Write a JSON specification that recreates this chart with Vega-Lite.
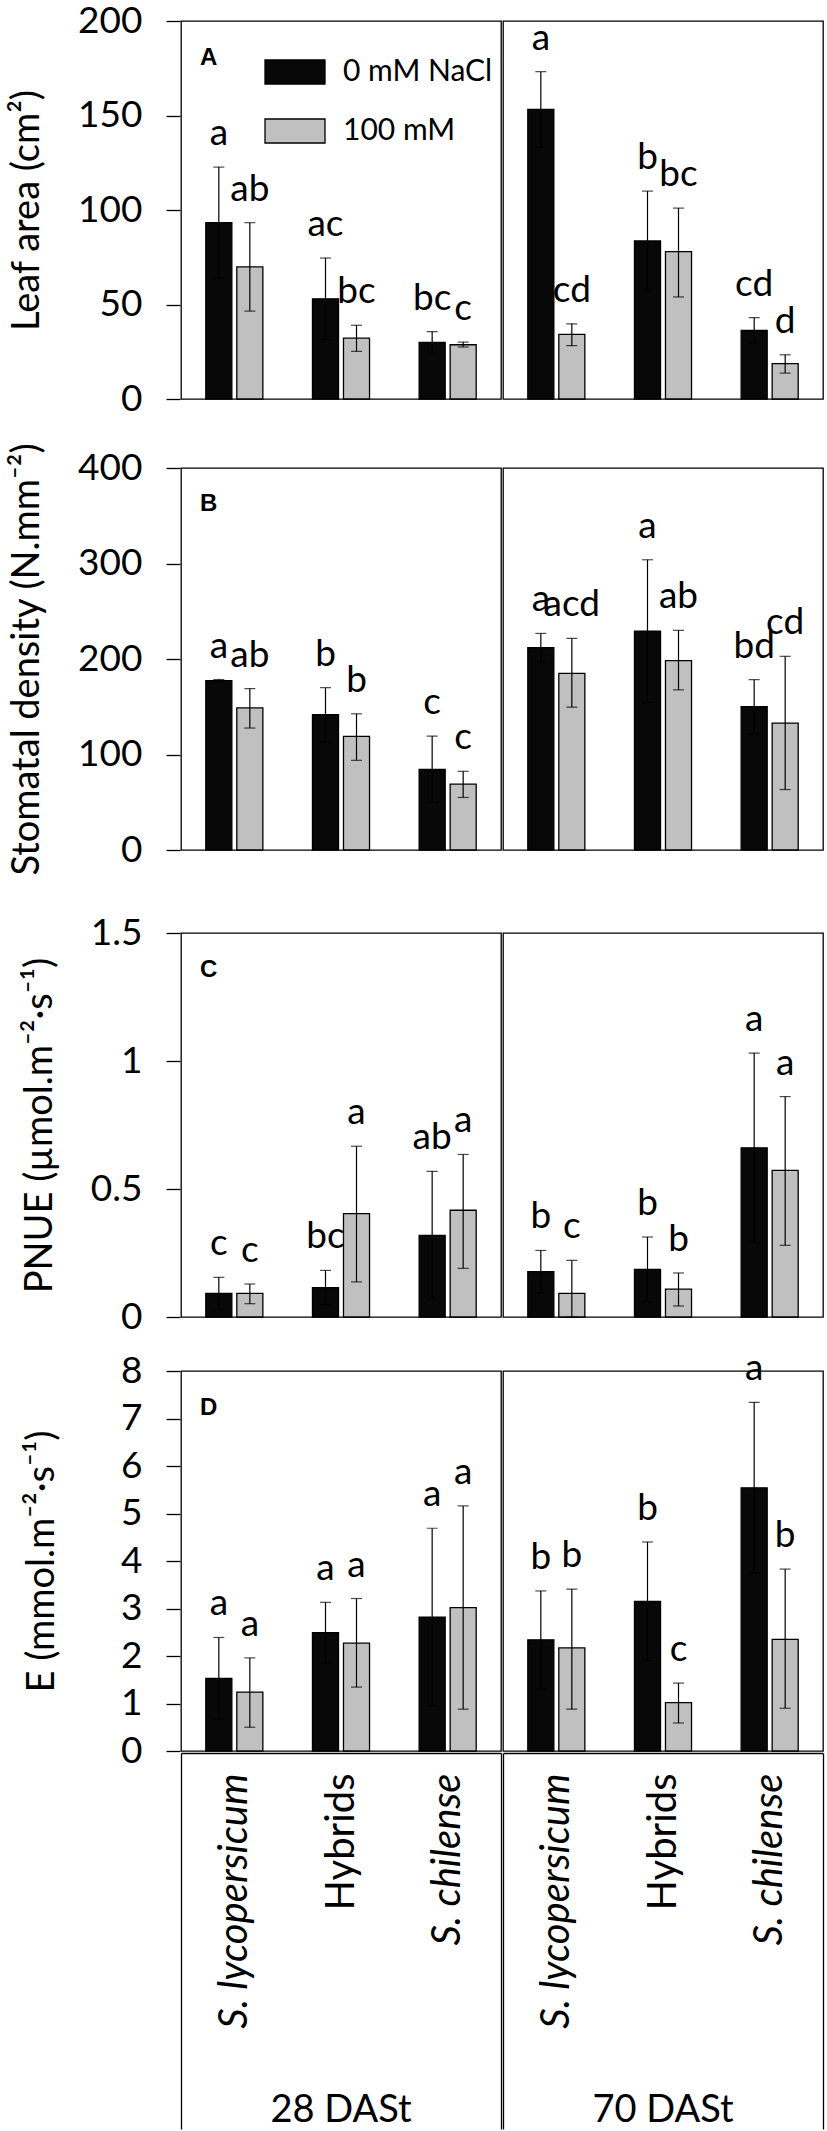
{
"$schema": "https://vega.github.io/schema/vega-lite/v6.json",
"background": "white",
"padding": {"left": 8, "top": 2, "right": 5, "bottom": 0},
"config": {
  "view": {"stroke": "black", "strokeWidth": 1.3},
  "font": "Lato",
  "axis": {"labelFont": "Lato", "titleFont": "Lato", "labelColor": "black", "titleColor": "black", "grid": false},
  "axisY": {"tickSize": 14, "tickWidth": 1.3, "tickColor": "black", "domain": false, "labelFontSize": 37, "labelPadding": 24, "titleFontSize": 38, "titleFontWeight": "normal", "titlePadding": 31, "format": "~f"}
},
"datasets": {
"leaf": [
{"period":"28 DASt","species":"S. lycopersicum","treatment":"0 mM NaCl","mean":93.3,"lo":63.9,"hi":122.7,"letter":"a"},
{"period":"28 DASt","species":"S. lycopersicum","treatment":"100 mM","mean":69.9,"lo":46.5,"hi":93.3,"letter":"ab"},
{"period":"28 DASt","species":"Hybrids","treatment":"0 mM NaCl","mean":53,"lo":31.4,"hi":74.6,"letter":"ac"},
{"period":"28 DASt","species":"Hybrids","treatment":"100 mM","mean":32.2,"lo":25.2,"hi":39,"letter":"bc"},
{"period":"28 DASt","species":"S. chilense","treatment":"0 mM NaCl","mean":29.9,"lo":24.1,"hi":35.7,"letter":"bc"},
{"period":"28 DASt","species":"S. chilense","treatment":"100 mM","mean":28.7,"lo":27.5,"hi":30.1,"letter":"c"},
{"period":"70 DASt","species":"S. lycopersicum","treatment":"0 mM NaCl","mean":153.2,"lo":133.2,"hi":173.2,"letter":"a"},
{"period":"70 DASt","species":"S. lycopersicum","treatment":"100 mM","mean":34.2,"lo":28.2,"hi":39.8,"letter":"cd"},
{"period":"70 DASt","species":"Hybrids","treatment":"0 mM NaCl","mean":83.6,"lo":57.2,"hi":110,"letter":"b"},
{"period":"70 DASt","species":"Hybrids","treatment":"100 mM","mean":78,"lo":54,"hi":101,"letter":"bc"},
{"period":"70 DASt","species":"S. chilense","treatment":"0 mM NaCl","mean":36.3,"lo":29.5,"hi":43.1,"letter":"cd"},
{"period":"70 DASt","species":"S. chilense","treatment":"100 mM","mean":18.7,"lo":13.7,"hi":23.4,"letter":"d"}
],
"stom": [
{"period":"28 DASt","species":"S. lycopersicum","treatment":"0 mM NaCl","mean":177.4,"lo":176.3,"hi":178.5,"letter":"a"},
{"period":"28 DASt","species":"S. lycopersicum","treatment":"100 mM","mean":148.9,"lo":127.7,"hi":169,"letter":"ab"},
{"period":"28 DASt","species":"Hybrids","treatment":"0 mM NaCl","mean":141.6,"lo":113.2,"hi":170,"letter":"b"},
{"period":"28 DASt","species":"Hybrids","treatment":"100 mM","mean":119,"lo":93.9,"hi":142.6,"letter":"b"},
{"period":"28 DASt","species":"S. chilense","treatment":"0 mM NaCl","mean":84.5,"lo":49.7,"hi":119.3,"letter":"c"},
{"period":"28 DASt","species":"S. chilense","treatment":"100 mM","mean":68.9,"lo":55,"hi":82.4,"letter":"c"},
{"period":"70 DASt","species":"S. lycopersicum","treatment":"0 mM NaCl","mean":211.8,"lo":196.8,"hi":226.8,"letter":"a"},
{"period":"70 DASt","species":"S. lycopersicum","treatment":"100 mM","mean":185,"lo":149.6,"hi":221.5,"letter":"acd"},
{"period":"70 DASt","species":"Hybrids","treatment":"0 mM NaCl","mean":229.2,"lo":154.5,"hi":303.9,"letter":"a"},
{"period":"70 DASt","species":"Hybrids","treatment":"100 mM","mean":198.3,"lo":167.7,"hi":230,"letter":"ab"},
{"period":"70 DASt","species":"S. chilense","treatment":"0 mM NaCl","mean":150,"lo":121.6,"hi":178.4,"letter":"bd"},
{"period":"70 DASt","species":"S. chilense","treatment":"100 mM","mean":132.9,"lo":63.3,"hi":202.8,"letter":"cd"}
],
"pnue": [
{"period":"28 DASt","species":"S. lycopersicum","treatment":"0 mM NaCl","mean":0.092,"lo":0.029,"hi":0.155,"letter":"c"},
{"period":"28 DASt","species":"S. lycopersicum","treatment":"100 mM","mean":0.092,"lo":0.052,"hi":0.129,"letter":"c"},
{"period":"28 DASt","species":"Hybrids","treatment":"0 mM NaCl","mean":0.115,"lo":0.048,"hi":0.182,"letter":"bc"},
{"period":"28 DASt","species":"Hybrids","treatment":"100 mM","mean":0.404,"lo":0.137,"hi":0.667,"letter":"a"},
{"period":"28 DASt","species":"S. chilense","treatment":"0 mM NaCl","mean":0.319,"lo":0.069,"hi":0.569,"letter":"ab"},
{"period":"28 DASt","species":"S. chilense","treatment":"100 mM","mean":0.417,"lo":0.19,"hi":0.635,"letter":"a"},
{"period":"70 DASt","species":"S. lycopersicum","treatment":"0 mM NaCl","mean":0.177,"lo":0.094,"hi":0.26,"letter":"b"},
{"period":"70 DASt","species":"S. lycopersicum","treatment":"100 mM","mean":0.092,"lo":0,"hi":0.221,"letter":"c"},
{"period":"70 DASt","species":"Hybrids","treatment":"0 mM NaCl","mean":0.186,"lo":0.06,"hi":0.3125,"letter":"b"},
{"period":"70 DASt","species":"Hybrids","treatment":"100 mM","mean":0.109,"lo":0.043,"hi":0.172,"letter":"b"},
{"period":"70 DASt","species":"S. chilense","treatment":"0 mM NaCl","mean":0.661,"lo":0.291,"hi":1.031,"letter":"a"},
{"period":"70 DASt","species":"S. chilense","treatment":"100 mM","mean":0.573,"lo":0.28,"hi":0.861,"letter":"a"}
],
"e": [
{"period":"28 DASt","species":"S. lycopersicum","treatment":"0 mM NaCl","mean":1.53,"lo":0.67,"hi":2.39,"letter":"a"},
{"period":"28 DASt","species":"S. lycopersicum","treatment":"100 mM","mean":1.24,"lo":0.5,"hi":1.96,"letter":"a"},
{"period":"28 DASt","species":"Hybrids","treatment":"0 mM NaCl","mean":2.49,"lo":1.85,"hi":3.13,"letter":"a"},
{"period":"28 DASt","species":"Hybrids","treatment":"100 mM","mean":2.27,"lo":1.345,"hi":3.21,"letter":"a"},
{"period":"28 DASt","species":"S. chilense","treatment":"0 mM NaCl","mean":2.82,"lo":0.95,"hi":4.69,"letter":"a"},
{"period":"28 DASt","species":"S. chilense","treatment":"100 mM","mean":3.02,"lo":0.88,"hi":5.16,"letter":"a"},
{"period":"70 DASt","species":"S. lycopersicum","treatment":"0 mM NaCl","mean":2.34,"lo":1.31,"hi":3.37,"letter":"b"},
{"period":"70 DASt","species":"S. lycopersicum","treatment":"100 mM","mean":2.17,"lo":0.88,"hi":3.41,"letter":"b"},
{"period":"70 DASt","species":"Hybrids","treatment":"0 mM NaCl","mean":3.15,"lo":1.9,"hi":4.4,"letter":"b"},
{"period":"70 DASt","species":"Hybrids","treatment":"100 mM","mean":1.02,"lo":0.59,"hi":1.43,"letter":"c"},
{"period":"70 DASt","species":"S. chilense","treatment":"0 mM NaCl","mean":5.54,"lo":3.74,"hi":7.34,"letter":"a"},
{"period":"70 DASt","species":"S. chilense","treatment":"100 mM","mean":2.35,"lo":0.9,"hi":3.83,"letter":"b"}
]
},
"spacing": 38,
"resolve": {"scale": {"y": "independent", "fill": "independent"}, "legend": {"fill": "independent"}},
"vconcat": [
{
"spacing": 25,
"resolve": {"scale": {"y": "independent", "fill": "independent"}, "legend": {"fill": "independent"}},
"vconcat": [
{
"data": {"name": "leaf"},
"facet": {"column": {"field": "period", "type": "nominal", "sort": ["28 DASt", "70 DASt"], "header": null}},
"spacing": 0,
"spec": {
  "width": 320, "height": 378,
  "encoding": {"x": {"field": "species", "type": "nominal", "sort": ["S. lycopersicum", "Hybrids", "S. chilense"], "scale": {"paddingInner": 0, "paddingOuter": 0}, "axis": null}},
  "layer": [
    {"mark": {"type": "bar", "stroke": "black", "strokeWidth": 1.3},
     "encoding": {
       "xOffset": {"field": "treatment", "type": "nominal", "sort": ["0 mM NaCl", "100 mM"], "scale": {"paddingInner": 0.16, "paddingOuter": 0.8}},
       "y": {"field": "mean", "type": "quantitative", "scale": {"domain": [0, 200], "nice": false}, "axis": {"title": "Leaf area (cm²)", "values": [0, 50, 100, 150, 200]}},
       "fill": {"field": "treatment", "type": "nominal", "sort": ["0 mM NaCl", "100 mM"], "scale": {"domain": ["0 mM NaCl", "100 mM"], "range": ["#080808", "#c0c0c0"]},
         "legend": {"orient": "none", "legendX": 83, "legendY": 20, "title": null, "direction": "vertical", "symbolType": "M-1,-0.4H1V0.4H-1Z", "symbolSize": 3600, "symbolStrokeColor": "black", "symbolStrokeWidth": 1.3, "symbolOpacity": 1, "labelFontSize": 30, "labelFont": "Lato", "labelColor": "black", "labelOffset": 17, "rowPadding": 13, "padding": 0}}
     }},
    {"mark": {"type": "rule", "color": "black", "strokeWidth": 1.2},
     "encoding": {"xOffset": {"field": "treatment", "type": "nominal", "sort": ["0 mM NaCl", "100 mM"]}, "y": {"field": "lo", "type": "quantitative"}, "y2": {"field": "hi"}}},
    {"mark": {"type": "tick", "orient": "horizontal", "color": "black", "size": 11, "thickness": 1.2},
     "encoding": {"xOffset": {"field": "treatment", "type": "nominal", "sort": ["0 mM NaCl", "100 mM"]}, "y": {"field": "hi", "type": "quantitative"}}},
    {"mark": {"type": "tick", "orient": "horizontal", "color": "black", "size": 11, "thickness": 1.2},
     "encoding": {"xOffset": {"field": "treatment", "type": "nominal", "sort": ["0 mM NaCl", "100 mM"]}, "y": {"field": "lo", "type": "quantitative"}}},
    {"mark": {"type": "text", "baseline": "alphabetic", "align": "center", "dy": -22, "fontSize": 37, "font": "Lato", "color": "black"},
     "encoding": {"xOffset": {"field": "treatment", "type": "nominal", "sort": ["0 mM NaCl", "100 mM"]}, "y": {"field": "hi", "type": "quantitative"}, "text": {"field": "letter"}}},
    {"transform": [{"filter": "datum.period === '28 DASt' && datum.species === 'S. lycopersicum' && datum.treatment === '0 mM NaCl'"}],
     "mark": {"type": "text", "text": "A", "align": "left", "baseline": "top", "dx": 19, "dy": 25, "font": "Liberation Sans", "fontWeight": "bold", "fontSize": 24, "color": "black"},
     "encoding": {"x": {"field": "species", "type": "nominal", "bandPosition": 0}, "y": {"datum": 200, "type": "quantitative"}}}
  ]
}
},
{
"data": {"name": "stom"},
"facet": {"column": {"field": "period", "type": "nominal", "sort": ["28 DASt", "70 DASt"], "header": null}},
"spacing": 0,
"spec": {
  "width": 320, "height": 382,
  "encoding": {"x": {"field": "species", "type": "nominal", "sort": ["S. lycopersicum", "Hybrids", "S. chilense"], "scale": {"paddingInner": 0, "paddingOuter": 0}, "axis": null}},
  "layer": [
    {"mark": {"type": "bar", "stroke": "black", "strokeWidth": 1.3},
     "encoding": {
       "xOffset": {"field": "treatment", "type": "nominal", "sort": ["0 mM NaCl", "100 mM"], "scale": {"paddingInner": 0.16, "paddingOuter": 0.8}},
       "y": {"field": "mean", "type": "quantitative", "scale": {"domain": [0, 400], "nice": false}, "axis": {"title": "Stomatal density (N.mm⁻²)", "values": [0, 100, 200, 300, 400]}},
       "fill": {"field": "treatment", "type": "nominal", "scale": {"domain": ["0 mM NaCl", "100 mM"], "range": ["#080808", "#c0c0c0"]}, "legend": null}
     }},
    {"mark": {"type": "rule", "color": "black", "strokeWidth": 1.2},
     "encoding": {"xOffset": {"field": "treatment", "type": "nominal", "sort": ["0 mM NaCl", "100 mM"]}, "y": {"field": "lo", "type": "quantitative"}, "y2": {"field": "hi"}}},
    {"mark": {"type": "tick", "orient": "horizontal", "color": "black", "size": 11, "thickness": 1.2},
     "encoding": {"xOffset": {"field": "treatment", "type": "nominal", "sort": ["0 mM NaCl", "100 mM"]}, "y": {"field": "hi", "type": "quantitative"}}},
    {"mark": {"type": "tick", "orient": "horizontal", "color": "black", "size": 11, "thickness": 1.2},
     "encoding": {"xOffset": {"field": "treatment", "type": "nominal", "sort": ["0 mM NaCl", "100 mM"]}, "y": {"field": "lo", "type": "quantitative"}}},
    {"mark": {"type": "text", "baseline": "alphabetic", "align": "center", "dy": -22, "fontSize": 37, "font": "Lato", "color": "black"},
     "encoding": {"xOffset": {"field": "treatment", "type": "nominal", "sort": ["0 mM NaCl", "100 mM"]}, "y": {"field": "hi", "type": "quantitative"}, "text": {"field": "letter"}}},
    {"transform": [{"filter": "datum.period === '28 DASt' && datum.species === 'S. lycopersicum' && datum.treatment === '0 mM NaCl'"}],
     "mark": {"type": "text", "text": "B", "align": "left", "baseline": "top", "dx": 19, "dy": 24, "font": "Liberation Sans", "fontWeight": "bold", "fontSize": 24, "color": "black"},
     "encoding": {"x": {"field": "species", "type": "nominal", "bandPosition": 0}, "y": {"datum": 400, "type": "quantitative"}}}
  ]
}
}
]
},
{
"spacing": 14,
"resolve": {"scale": {"y": "independent", "fill": "independent"}, "legend": {"fill": "independent"}},
"vconcat": [
{
"data": {"name": "pnue"},
"facet": {"column": {"field": "period", "type": "nominal", "sort": ["28 DASt", "70 DASt"], "header": null}},
"spacing": 0,
"spec": {
  "width": 320, "height": 384,
  "encoding": {"x": {"field": "species", "type": "nominal", "sort": ["S. lycopersicum", "Hybrids", "S. chilense"], "scale": {"paddingInner": 0, "paddingOuter": 0}, "axis": null}},
  "layer": [
    {"mark": {"type": "bar", "stroke": "black", "strokeWidth": 1.3},
     "encoding": {
       "xOffset": {"field": "treatment", "type": "nominal", "sort": ["0 mM NaCl", "100 mM"], "scale": {"paddingInner": 0.16, "paddingOuter": 0.8}},
       "y": {"field": "mean", "type": "quantitative", "scale": {"domain": [0, 1.5], "nice": false}, "axis": {"title": "PNUE (µmol.m⁻²·s⁻¹)", "values": [0, 0.5, 1, 1.5]}},
       "fill": {"field": "treatment", "type": "nominal", "scale": {"domain": ["0 mM NaCl", "100 mM"], "range": ["#080808", "#c0c0c0"]}, "legend": null}
     }},
    {"mark": {"type": "rule", "color": "black", "strokeWidth": 1.2},
     "encoding": {"xOffset": {"field": "treatment", "type": "nominal", "sort": ["0 mM NaCl", "100 mM"]}, "y": {"field": "lo", "type": "quantitative"}, "y2": {"field": "hi"}}},
    {"mark": {"type": "tick", "orient": "horizontal", "color": "black", "size": 11, "thickness": 1.2},
     "encoding": {"xOffset": {"field": "treatment", "type": "nominal", "sort": ["0 mM NaCl", "100 mM"]}, "y": {"field": "hi", "type": "quantitative"}}},
    {"mark": {"type": "tick", "orient": "horizontal", "color": "black", "size": 11, "thickness": 1.2},
     "encoding": {"xOffset": {"field": "treatment", "type": "nominal", "sort": ["0 mM NaCl", "100 mM"]}, "y": {"field": "lo", "type": "quantitative"}}},
    {"mark": {"type": "text", "baseline": "alphabetic", "align": "center", "dy": -22, "fontSize": 37, "font": "Lato", "color": "black"},
     "encoding": {"xOffset": {"field": "treatment", "type": "nominal", "sort": ["0 mM NaCl", "100 mM"]}, "y": {"field": "hi", "type": "quantitative"}, "text": {"field": "letter"}}},
    {"transform": [{"filter": "datum.period === '28 DASt' && datum.species === 'S. lycopersicum' && datum.treatment === '0 mM NaCl'"}],
     "mark": {"type": "text", "text": "C", "align": "left", "baseline": "top", "dx": 19, "dy": 25, "font": "Liberation Sans", "fontWeight": "bold", "fontSize": 24, "color": "black"},
     "encoding": {"x": {"field": "species", "type": "nominal", "bandPosition": 0}, "y": {"datum": 1.5, "type": "quantitative"}}}
  ]
}
},
{
"data": {"name": "e"},
"facet": {"column": {"field": "period", "type": "nominal", "sort": ["28 DASt", "70 DASt"], "header": {"title": null, "labelOrient": "bottom", "labelFont": "Lato", "labelFontSize": 38, "labelColor": "black", "labelPadding": 0, "labelBaseline": "bottom"}}},
"spacing": 0,
"spec": {
  "width": 320, "height": 380,
  "encoding": {"x": {"field": "species", "type": "nominal", "sort": ["S. lycopersicum", "Hybrids", "S. chilense"], "scale": {"paddingInner": 0, "paddingOuter": 0},
    "axis": {"title": null, "labelAngle": -90, "labelFont": "Lato", "labelFontSize": 40, "labelColor": "black", "labelLimit": 500, "labelOverlap": false, "tickBand": "extent", "labelPadding": -356, "tickSize": 376, "tickWidth": 1.3, "tickColor": "black",
      "tickOpacity": {"condition": {"test": "(datum.value !== 'S. lycopersicum' && datum.value !== 'Hybrids') || !!datum.extra", "value": 1}, "value": 0},
      "labelFontStyle": {"condition": {"test": "datum.value !== 'Hybrids'", "value": "italic"}, "value": "normal"},
      "domain": true, "domainColor": "black", "domainWidth": 1.3}}},
  "layer": [
    {"mark": {"type": "bar", "stroke": "black", "strokeWidth": 1.3},
     "encoding": {
       "xOffset": {"field": "treatment", "type": "nominal", "sort": ["0 mM NaCl", "100 mM"], "scale": {"paddingInner": 0.16, "paddingOuter": 0.8}},
       "y": {"field": "mean", "type": "quantitative", "scale": {"domain": [0, 8], "nice": false}, "axis": {"title": "E (mmol.m⁻²·s⁻¹)", "values": [0, 1, 2, 3, 4, 5, 6, 7, 8], "titlePadding": 59}},
       "fill": {"field": "treatment", "type": "nominal", "scale": {"domain": ["0 mM NaCl", "100 mM"], "range": ["#080808", "#c0c0c0"]}, "legend": null}
     }},
    {"mark": {"type": "rule", "color": "black", "strokeWidth": 1.2},
     "encoding": {"xOffset": {"field": "treatment", "type": "nominal", "sort": ["0 mM NaCl", "100 mM"]}, "y": {"field": "lo", "type": "quantitative"}, "y2": {"field": "hi"}}},
    {"mark": {"type": "tick", "orient": "horizontal", "color": "black", "size": 11, "thickness": 1.2},
     "encoding": {"xOffset": {"field": "treatment", "type": "nominal", "sort": ["0 mM NaCl", "100 mM"]}, "y": {"field": "hi", "type": "quantitative"}}},
    {"mark": {"type": "tick", "orient": "horizontal", "color": "black", "size": 11, "thickness": 1.2},
     "encoding": {"xOffset": {"field": "treatment", "type": "nominal", "sort": ["0 mM NaCl", "100 mM"]}, "y": {"field": "lo", "type": "quantitative"}}},
    {"mark": {"type": "text", "baseline": "alphabetic", "align": "center", "dy": -22, "fontSize": 37, "font": "Lato", "color": "black"},
     "encoding": {"xOffset": {"field": "treatment", "type": "nominal", "sort": ["0 mM NaCl", "100 mM"]}, "y": {"field": "hi", "type": "quantitative"}, "text": {"field": "letter"}}},
    {"transform": [{"filter": "datum.period === '28 DASt' && datum.species === 'S. lycopersicum' && datum.treatment === '0 mM NaCl'"}],
     "mark": {"type": "text", "text": "D", "align": "left", "baseline": "top", "dx": 19, "dy": 25, "font": "Liberation Sans", "fontWeight": "bold", "fontSize": 24, "color": "black"},
     "encoding": {"x": {"field": "species", "type": "nominal", "bandPosition": 0}, "y": {"datum": 8, "type": "quantitative"}}}
  ]
}
}
]
}
]
}
